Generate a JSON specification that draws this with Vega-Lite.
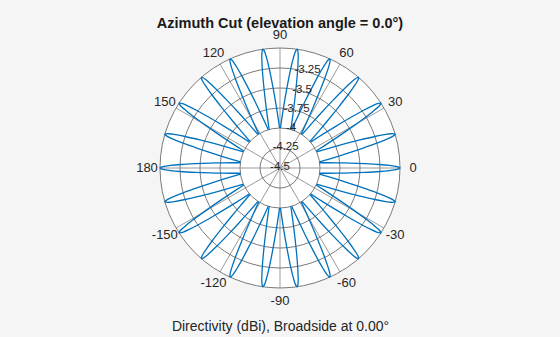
{
"$schema":"https://vega.github.io/schema/vega-lite/v6.json",
"width":560,"height":256,
"autosize":"none",
"padding":{"top":40,"bottom":41,"left":0,"right":0},
"background":"#f5f5f5",
"config":{"view":{"stroke":null},"font":"Liberation Sans","axisY":{"disable":true},
"axisX":{"domain":true,"domainColor":"transparent","ticks":false,"labels":false,"grid":false,"titleFontSize":14,"titleFontWeight":"normal","titleColor":"#262626","titlePadding":23}},
"title":{"text":"Azimuth Cut (elevation angle = 0.0°)","fontSize":14.5,"fontWeight":"bold","color":"#1a1a1a","offset":-2},
"datasets":{
"lobes":[
{"k":0,"a":-7.55,"v":-4},{"k":0,"a":-5.4,"v":-3.81},{"k":0,"a":-4.05,"v":-3.63},{"k":0,"a":-2.95,"v":-3.44},{"k":0,"a":-2,"v":-3.25},{"k":0,"a":-1.34,"v":-3.13},{"k":0,"a":-0.82,"v":-3.05},{"k":0,"a":-0.3,"v":-3.01},{"k":0,"a":0,"v":-3},{"k":0,"a":0.3,"v":-3.01},{"k":0,"a":0.82,"v":-3.05},{"k":0,"a":1.34,"v":-3.13},{"k":0,"a":2,"v":-3.25},{"k":0,"a":2.95,"v":-3.44},{"k":0,"a":4.05,"v":-3.63},{"k":0,"a":5.4,"v":-3.81},{"k":0,"a":7.55,"v":-4},
{"k":1,"a":8.81,"v":-4},{"k":1,"a":10.96,"v":-3.81},{"k":1,"a":12.31,"v":-3.63},{"k":1,"a":13.41,"v":-3.44},{"k":1,"a":14.36,"v":-3.25},{"k":1,"a":15.02,"v":-3.13},{"k":1,"a":15.54,"v":-3.05},{"k":1,"a":16.06,"v":-3.01},{"k":1,"a":16.36,"v":-3},{"k":1,"a":16.66,"v":-3.01},{"k":1,"a":17.18,"v":-3.05},{"k":1,"a":17.7,"v":-3.13},{"k":1,"a":18.36,"v":-3.25},{"k":1,"a":19.31,"v":-3.44},{"k":1,"a":20.41,"v":-3.63},{"k":1,"a":21.76,"v":-3.81},{"k":1,"a":23.91,"v":-4},
{"k":2,"a":25.18,"v":-4},{"k":2,"a":27.33,"v":-3.81},{"k":2,"a":28.68,"v":-3.63},{"k":2,"a":29.78,"v":-3.44},{"k":2,"a":30.73,"v":-3.25},{"k":2,"a":31.39,"v":-3.13},{"k":2,"a":31.91,"v":-3.05},{"k":2,"a":32.43,"v":-3.01},{"k":2,"a":32.73,"v":-3},{"k":2,"a":33.03,"v":-3.01},{"k":2,"a":33.55,"v":-3.05},{"k":2,"a":34.07,"v":-3.13},{"k":2,"a":34.73,"v":-3.25},{"k":2,"a":35.68,"v":-3.44},{"k":2,"a":36.78,"v":-3.63},{"k":2,"a":38.13,"v":-3.81},{"k":2,"a":40.28,"v":-4},
{"k":3,"a":41.54,"v":-4},{"k":3,"a":43.69,"v":-3.81},{"k":3,"a":45.04,"v":-3.63},{"k":3,"a":46.14,"v":-3.44},{"k":3,"a":47.09,"v":-3.25},{"k":3,"a":47.75,"v":-3.13},{"k":3,"a":48.27,"v":-3.05},{"k":3,"a":48.79,"v":-3.01},{"k":3,"a":49.09,"v":-3},{"k":3,"a":49.39,"v":-3.01},{"k":3,"a":49.91,"v":-3.05},{"k":3,"a":50.43,"v":-3.13},{"k":3,"a":51.09,"v":-3.25},{"k":3,"a":52.04,"v":-3.44},{"k":3,"a":53.14,"v":-3.63},{"k":3,"a":54.49,"v":-3.81},{"k":3,"a":56.64,"v":-4},
{"k":4,"a":57.9,"v":-4},{"k":4,"a":60.05,"v":-3.81},{"k":4,"a":61.4,"v":-3.63},{"k":4,"a":62.5,"v":-3.44},{"k":4,"a":63.45,"v":-3.25},{"k":4,"a":64.11,"v":-3.13},{"k":4,"a":64.63,"v":-3.05},{"k":4,"a":65.15,"v":-3.01},{"k":4,"a":65.45,"v":-3},{"k":4,"a":65.75,"v":-3.01},{"k":4,"a":66.27,"v":-3.05},{"k":4,"a":66.79,"v":-3.13},{"k":4,"a":67.45,"v":-3.25},{"k":4,"a":68.4,"v":-3.44},{"k":4,"a":69.5,"v":-3.63},{"k":4,"a":70.85,"v":-3.81},{"k":4,"a":73,"v":-4},
{"k":5,"a":74.27,"v":-4},{"k":5,"a":76.42,"v":-3.81},{"k":5,"a":77.77,"v":-3.63},{"k":5,"a":78.87,"v":-3.44},{"k":5,"a":79.82,"v":-3.25},{"k":5,"a":80.48,"v":-3.13},{"k":5,"a":81,"v":-3.05},{"k":5,"a":81.52,"v":-3.01},{"k":5,"a":81.82,"v":-3},{"k":5,"a":82.12,"v":-3.01},{"k":5,"a":82.64,"v":-3.05},{"k":5,"a":83.16,"v":-3.13},{"k":5,"a":83.82,"v":-3.25},{"k":5,"a":84.77,"v":-3.44},{"k":5,"a":85.87,"v":-3.63},{"k":5,"a":87.22,"v":-3.81},{"k":5,"a":89.37,"v":-4},
{"k":6,"a":90.63,"v":-4},{"k":6,"a":92.78,"v":-3.81},{"k":6,"a":94.13,"v":-3.63},{"k":6,"a":95.23,"v":-3.44},{"k":6,"a":96.18,"v":-3.25},{"k":6,"a":96.84,"v":-3.13},{"k":6,"a":97.36,"v":-3.05},{"k":6,"a":97.88,"v":-3.01},{"k":6,"a":98.18,"v":-3},{"k":6,"a":98.48,"v":-3.01},{"k":6,"a":99,"v":-3.05},{"k":6,"a":99.52,"v":-3.13},{"k":6,"a":100.18,"v":-3.25},{"k":6,"a":101.13,"v":-3.44},{"k":6,"a":102.23,"v":-3.63},{"k":6,"a":103.58,"v":-3.81},{"k":6,"a":105.73,"v":-4},
{"k":7,"a":107,"v":-4},{"k":7,"a":109.15,"v":-3.81},{"k":7,"a":110.5,"v":-3.63},{"k":7,"a":111.6,"v":-3.44},{"k":7,"a":112.55,"v":-3.25},{"k":7,"a":113.21,"v":-3.13},{"k":7,"a":113.73,"v":-3.05},{"k":7,"a":114.25,"v":-3.01},{"k":7,"a":114.55,"v":-3},{"k":7,"a":114.85,"v":-3.01},{"k":7,"a":115.37,"v":-3.05},{"k":7,"a":115.89,"v":-3.13},{"k":7,"a":116.55,"v":-3.25},{"k":7,"a":117.5,"v":-3.44},{"k":7,"a":118.6,"v":-3.63},{"k":7,"a":119.95,"v":-3.81},{"k":7,"a":122.1,"v":-4},
{"k":8,"a":123.36,"v":-4},{"k":8,"a":125.51,"v":-3.81},{"k":8,"a":126.86,"v":-3.63},{"k":8,"a":127.96,"v":-3.44},{"k":8,"a":128.91,"v":-3.25},{"k":8,"a":129.57,"v":-3.13},{"k":8,"a":130.09,"v":-3.05},{"k":8,"a":130.61,"v":-3.01},{"k":8,"a":130.91,"v":-3},{"k":8,"a":131.21,"v":-3.01},{"k":8,"a":131.73,"v":-3.05},{"k":8,"a":132.25,"v":-3.13},{"k":8,"a":132.91,"v":-3.25},{"k":8,"a":133.86,"v":-3.44},{"k":8,"a":134.96,"v":-3.63},{"k":8,"a":136.31,"v":-3.81},{"k":8,"a":138.46,"v":-4},
{"k":9,"a":139.72,"v":-4},{"k":9,"a":141.87,"v":-3.81},{"k":9,"a":143.22,"v":-3.63},{"k":9,"a":144.32,"v":-3.44},{"k":9,"a":145.27,"v":-3.25},{"k":9,"a":145.93,"v":-3.13},{"k":9,"a":146.45,"v":-3.05},{"k":9,"a":146.97,"v":-3.01},{"k":9,"a":147.27,"v":-3},{"k":9,"a":147.57,"v":-3.01},{"k":9,"a":148.09,"v":-3.05},{"k":9,"a":148.61,"v":-3.13},{"k":9,"a":149.27,"v":-3.25},{"k":9,"a":150.22,"v":-3.44},{"k":9,"a":151.32,"v":-3.63},{"k":9,"a":152.67,"v":-3.81},{"k":9,"a":154.82,"v":-4},
{"k":10,"a":156.09,"v":-4},{"k":10,"a":158.24,"v":-3.81},{"k":10,"a":159.59,"v":-3.63},{"k":10,"a":160.69,"v":-3.44},{"k":10,"a":161.64,"v":-3.25},{"k":10,"a":162.3,"v":-3.13},{"k":10,"a":162.82,"v":-3.05},{"k":10,"a":163.34,"v":-3.01},{"k":10,"a":163.64,"v":-3},{"k":10,"a":163.94,"v":-3.01},{"k":10,"a":164.46,"v":-3.05},{"k":10,"a":164.98,"v":-3.13},{"k":10,"a":165.64,"v":-3.25},{"k":10,"a":166.59,"v":-3.44},{"k":10,"a":167.69,"v":-3.63},{"k":10,"a":169.04,"v":-3.81},{"k":10,"a":171.19,"v":-4},
{"k":11,"a":172.45,"v":-4},{"k":11,"a":174.6,"v":-3.81},{"k":11,"a":175.95,"v":-3.63},{"k":11,"a":177.05,"v":-3.44},{"k":11,"a":178,"v":-3.25},{"k":11,"a":178.66,"v":-3.13},{"k":11,"a":179.18,"v":-3.05},{"k":11,"a":179.7,"v":-3.01},{"k":11,"a":180,"v":-3},{"k":11,"a":180.3,"v":-3.01},{"k":11,"a":180.82,"v":-3.05},{"k":11,"a":181.34,"v":-3.13},{"k":11,"a":182,"v":-3.25},{"k":11,"a":182.95,"v":-3.44},{"k":11,"a":184.05,"v":-3.63},{"k":11,"a":185.4,"v":-3.81},{"k":11,"a":187.55,"v":-4},
{"k":12,"a":188.81,"v":-4},{"k":12,"a":190.96,"v":-3.81},{"k":12,"a":192.31,"v":-3.63},{"k":12,"a":193.41,"v":-3.44},{"k":12,"a":194.36,"v":-3.25},{"k":12,"a":195.02,"v":-3.13},{"k":12,"a":195.54,"v":-3.05},{"k":12,"a":196.06,"v":-3.01},{"k":12,"a":196.36,"v":-3},{"k":12,"a":196.66,"v":-3.01},{"k":12,"a":197.18,"v":-3.05},{"k":12,"a":197.7,"v":-3.13},{"k":12,"a":198.36,"v":-3.25},{"k":12,"a":199.31,"v":-3.44},{"k":12,"a":200.41,"v":-3.63},{"k":12,"a":201.76,"v":-3.81},{"k":12,"a":203.91,"v":-4},
{"k":13,"a":205.18,"v":-4},{"k":13,"a":207.33,"v":-3.81},{"k":13,"a":208.68,"v":-3.63},{"k":13,"a":209.78,"v":-3.44},{"k":13,"a":210.73,"v":-3.25},{"k":13,"a":211.39,"v":-3.13},{"k":13,"a":211.91,"v":-3.05},{"k":13,"a":212.43,"v":-3.01},{"k":13,"a":212.73,"v":-3},{"k":13,"a":213.03,"v":-3.01},{"k":13,"a":213.55,"v":-3.05},{"k":13,"a":214.07,"v":-3.13},{"k":13,"a":214.73,"v":-3.25},{"k":13,"a":215.68,"v":-3.44},{"k":13,"a":216.78,"v":-3.63},{"k":13,"a":218.13,"v":-3.81},{"k":13,"a":220.28,"v":-4},
{"k":14,"a":221.54,"v":-4},{"k":14,"a":223.69,"v":-3.81},{"k":14,"a":225.04,"v":-3.63},{"k":14,"a":226.14,"v":-3.44},{"k":14,"a":227.09,"v":-3.25},{"k":14,"a":227.75,"v":-3.13},{"k":14,"a":228.27,"v":-3.05},{"k":14,"a":228.79,"v":-3.01},{"k":14,"a":229.09,"v":-3},{"k":14,"a":229.39,"v":-3.01},{"k":14,"a":229.91,"v":-3.05},{"k":14,"a":230.43,"v":-3.13},{"k":14,"a":231.09,"v":-3.25},{"k":14,"a":232.04,"v":-3.44},{"k":14,"a":233.14,"v":-3.63},{"k":14,"a":234.49,"v":-3.81},{"k":14,"a":236.64,"v":-4},
{"k":15,"a":237.9,"v":-4},{"k":15,"a":240.05,"v":-3.81},{"k":15,"a":241.4,"v":-3.63},{"k":15,"a":242.5,"v":-3.44},{"k":15,"a":243.45,"v":-3.25},{"k":15,"a":244.11,"v":-3.13},{"k":15,"a":244.63,"v":-3.05},{"k":15,"a":245.15,"v":-3.01},{"k":15,"a":245.45,"v":-3},{"k":15,"a":245.75,"v":-3.01},{"k":15,"a":246.27,"v":-3.05},{"k":15,"a":246.79,"v":-3.13},{"k":15,"a":247.45,"v":-3.25},{"k":15,"a":248.4,"v":-3.44},{"k":15,"a":249.5,"v":-3.63},{"k":15,"a":250.85,"v":-3.81},{"k":15,"a":253,"v":-4},
{"k":16,"a":254.27,"v":-4},{"k":16,"a":256.42,"v":-3.81},{"k":16,"a":257.77,"v":-3.63},{"k":16,"a":258.87,"v":-3.44},{"k":16,"a":259.82,"v":-3.25},{"k":16,"a":260.48,"v":-3.13},{"k":16,"a":261,"v":-3.05},{"k":16,"a":261.52,"v":-3.01},{"k":16,"a":261.82,"v":-3},{"k":16,"a":262.12,"v":-3.01},{"k":16,"a":262.64,"v":-3.05},{"k":16,"a":263.16,"v":-3.13},{"k":16,"a":263.82,"v":-3.25},{"k":16,"a":264.77,"v":-3.44},{"k":16,"a":265.87,"v":-3.63},{"k":16,"a":267.22,"v":-3.81},{"k":16,"a":269.37,"v":-4},
{"k":17,"a":270.63,"v":-4},{"k":17,"a":272.78,"v":-3.81},{"k":17,"a":274.13,"v":-3.63},{"k":17,"a":275.23,"v":-3.44},{"k":17,"a":276.18,"v":-3.25},{"k":17,"a":276.84,"v":-3.13},{"k":17,"a":277.36,"v":-3.05},{"k":17,"a":277.88,"v":-3.01},{"k":17,"a":278.18,"v":-3},{"k":17,"a":278.48,"v":-3.01},{"k":17,"a":279,"v":-3.05},{"k":17,"a":279.52,"v":-3.13},{"k":17,"a":280.18,"v":-3.25},{"k":17,"a":281.13,"v":-3.44},{"k":17,"a":282.23,"v":-3.63},{"k":17,"a":283.58,"v":-3.81},{"k":17,"a":285.73,"v":-4},
{"k":18,"a":287,"v":-4},{"k":18,"a":289.15,"v":-3.81},{"k":18,"a":290.5,"v":-3.63},{"k":18,"a":291.6,"v":-3.44},{"k":18,"a":292.55,"v":-3.25},{"k":18,"a":293.21,"v":-3.13},{"k":18,"a":293.73,"v":-3.05},{"k":18,"a":294.25,"v":-3.01},{"k":18,"a":294.55,"v":-3},{"k":18,"a":294.85,"v":-3.01},{"k":18,"a":295.37,"v":-3.05},{"k":18,"a":295.89,"v":-3.13},{"k":18,"a":296.55,"v":-3.25},{"k":18,"a":297.5,"v":-3.44},{"k":18,"a":298.6,"v":-3.63},{"k":18,"a":299.95,"v":-3.81},{"k":18,"a":302.1,"v":-4},
{"k":19,"a":303.36,"v":-4},{"k":19,"a":305.51,"v":-3.81},{"k":19,"a":306.86,"v":-3.63},{"k":19,"a":307.96,"v":-3.44},{"k":19,"a":308.91,"v":-3.25},{"k":19,"a":309.57,"v":-3.13},{"k":19,"a":310.09,"v":-3.05},{"k":19,"a":310.61,"v":-3.01},{"k":19,"a":310.91,"v":-3},{"k":19,"a":311.21,"v":-3.01},{"k":19,"a":311.73,"v":-3.05},{"k":19,"a":312.25,"v":-3.13},{"k":19,"a":312.91,"v":-3.25},{"k":19,"a":313.86,"v":-3.44},{"k":19,"a":314.96,"v":-3.63},{"k":19,"a":316.31,"v":-3.81},{"k":19,"a":318.46,"v":-4},
{"k":20,"a":319.72,"v":-4},{"k":20,"a":321.87,"v":-3.81},{"k":20,"a":323.22,"v":-3.63},{"k":20,"a":324.32,"v":-3.44},{"k":20,"a":325.27,"v":-3.25},{"k":20,"a":325.93,"v":-3.13},{"k":20,"a":326.45,"v":-3.05},{"k":20,"a":326.97,"v":-3.01},{"k":20,"a":327.27,"v":-3},{"k":20,"a":327.57,"v":-3.01},{"k":20,"a":328.09,"v":-3.05},{"k":20,"a":328.61,"v":-3.13},{"k":20,"a":329.27,"v":-3.25},{"k":20,"a":330.22,"v":-3.44},{"k":20,"a":331.32,"v":-3.63},{"k":20,"a":332.67,"v":-3.81},{"k":20,"a":334.82,"v":-4},
{"k":21,"a":336.09,"v":-4},{"k":21,"a":338.24,"v":-3.81},{"k":21,"a":339.59,"v":-3.63},{"k":21,"a":340.69,"v":-3.44},{"k":21,"a":341.64,"v":-3.25},{"k":21,"a":342.3,"v":-3.13},{"k":21,"a":342.82,"v":-3.05},{"k":21,"a":343.34,"v":-3.01},{"k":21,"a":343.64,"v":-3},{"k":21,"a":343.94,"v":-3.01},{"k":21,"a":344.46,"v":-3.05},{"k":21,"a":344.98,"v":-3.13},{"k":21,"a":345.64,"v":-3.25},{"k":21,"a":346.59,"v":-3.44},{"k":21,"a":347.69,"v":-3.63},{"k":21,"a":349.04,"v":-3.81},{"k":21,"a":351.19,"v":-4}
],
"rings":[{"v":-4.25},{"v":-4},{"v":-3.75},{"v":-3.5},{"v":-3.25},{"v":-3}],
"spokes":[{"a":0,"v":-4.5},{"a":0,"v":-3},{"a":30,"v":-4.5},{"a":30,"v":-3},{"a":60,"v":-4.5},{"a":60,"v":-3},{"a":90,"v":-4.5},{"a":90,"v":-3},{"a":120,"v":-4.5},{"a":120,"v":-3},{"a":150,"v":-4.5},{"a":150,"v":-3},{"a":180,"v":-4.5},{"a":180,"v":-3},{"a":210,"v":-4.5},{"a":210,"v":-3},{"a":240,"v":-4.5},{"a":240,"v":-3},{"a":270,"v":-4.5},{"a":270,"v":-3},{"a":300,"v":-4.5},{"a":300,"v":-3},{"a":330,"v":-4.5},{"a":330,"v":-3}],
"alabels":[{"a":0,"t":"0"},{"a":30,"t":"30"},{"a":60,"t":"60"},{"a":90,"t":"90"},{"a":120,"t":"120"},{"a":150,"t":"150"},{"a":180,"t":"180"},{"a":210,"t":"-150"},{"a":240,"t":"-120"},{"a":270,"t":"-90"},{"a":300,"t":"-60"},{"a":330,"t":"-30"}],
"rlabels":[{"v":-4.5,"t":"-4.5"},{"v":-4.25,"t":"-4.25"},{"v":-4,"t":"-4"},{"v":-3.75,"t":"-3.75"},{"v":-3.5,"t":"-3.5"},{"v":-3.25,"t":"-3.25"}]
},
"layer":[
{"data":{"values":[{"v":-3}]},
 "mark":{"type":"arc","fill":"white","radius2":0},
 "encoding":{
  "radius":{"field":"v","type":"quantitative","stack":null,"scale":{"type":"linear","domain":[-4.5,-3],"range":[0,120]}}}},
{"data":{"name":"spokes"},
 "transform":[{"calculate":"(datum.v+4.5)*cos(datum.a*PI/180)","as":"x"},{"calculate":"(datum.v+4.5)*sin(datum.a*PI/180)","as":"y"}],
 "mark":{"type":"line","color":"#9a9a9a","strokeWidth":1},
 "encoding":{
  "x":{"field":"x","type":"quantitative","scale":{"domain":[-3.5,3.5],"nice":false,"zero":false}},
  "y":{"field":"y","type":"quantitative","scale":{"domain":[-1.6,1.6],"nice":false,"zero":false}},
  "detail":{"field":"a","type":"nominal"},
  "order":{"field":"v","type":"quantitative"}}},
{"data":{"name":"rings"},
 "mark":{"type":"arc","filled":false,"fill":"transparent","stroke":"#7a7a7a","strokeWidth":1,"radius2":0},
 "encoding":{
  "radius":{"field":"v","type":"quantitative","stack":null,"scale":{"type":"linear","domain":[-4.5,-3],"range":[0,120]}}}},
{"data":{"name":"lobes"},
 "transform":[{"calculate":"(datum.v+4.5)*cos(datum.a*PI/180)","as":"x"},{"calculate":"(datum.v+4.5)*sin(datum.a*PI/180)","as":"y"}],
 "mark":{"type":"line","color":"#0072BD","strokeWidth":1.3,"interpolate":"catmull-rom"},
 "encoding":{
  "x":{"field":"x","type":"quantitative","scale":{"domain":[-3.5,3.5],"nice":false,"zero":false},"axis":{"title":"Directivity (dBi), Broadside at 0.00°"}},
  "y":{"field":"y","type":"quantitative","scale":{"domain":[-1.6,1.6],"nice":false,"zero":false}},
  "detail":{"field":"k","type":"nominal"},
  "order":{"field":"a","type":"quantitative"}}},
{"data":{"name":"alabels"},
 "transform":[{"calculate":"1.6625*cos(datum.a*PI/180)","as":"x"},{"calculate":"1.6625*sin(datum.a*PI/180)","as":"y"}],
 "mark":{"type":"text","fontSize":13,"color":"#262626","align":"center","baseline":"middle"},
 "encoding":{
  "x":{"field":"x","type":"quantitative","scale":{"domain":[-3.5,3.5],"nice":false,"zero":false}},
  "y":{"field":"y","type":"quantitative","scale":{"domain":[-1.6,1.6],"nice":false,"zero":false}},
  "text":{"field":"t","type":"nominal"}}},
{"data":{"name":"rlabels"},
 "transform":[{"calculate":"(datum.v+4.5)*cos(74*PI/180)","as":"x"},{"calculate":"(datum.v+4.5)*sin(74*PI/180)","as":"y"}],
 "mark":{"type":"text","fontSize":11.5,"color":"#262626","align":"center","baseline":"middle","dy":-1.5},
 "encoding":{
  "x":{"field":"x","type":"quantitative","scale":{"domain":[-3.5,3.5],"nice":false,"zero":false}},
  "y":{"field":"y","type":"quantitative","scale":{"domain":[-1.6,1.6],"nice":false,"zero":false}},
  "text":{"field":"t","type":"nominal"}}}
]
}
